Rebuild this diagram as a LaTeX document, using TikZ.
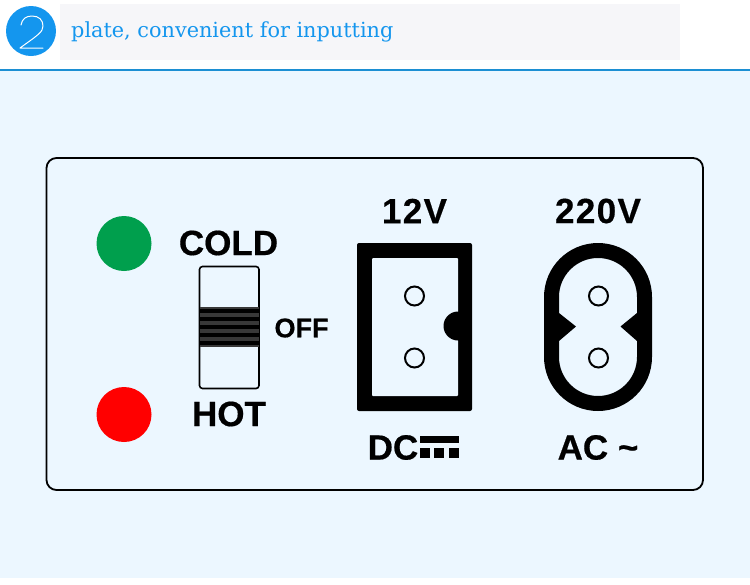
\documentclass[tikz,border=0pt]{standalone}
\usepackage{fontspec}
\setmainfont{Liberation Sans}[BoldFeatures={FakeBold=0.5}]
\definecolor{bgblue}{HTML}{ECF7FF}
\definecolor{headblue}{HTML}{1496EE}
\definecolor{linecol}{HTML}{1C8FD3}
\definecolor{band}{HTML}{F6F6F9}
\definecolor{ledg}{HTML}{009F4D}
\tikzset{
  lbl/.style={font=\fontsize{#1}{#1}\selectfont\bfseries,text=black,inner sep=0pt},
  pin/.style={circle,draw=black,line width=2pt,fill=none,minimum size=19pt,inner sep=0pt},
  led/.style={circle,minimum size=55pt,inner sep=0pt},
}
\begin{document}
\begin{tikzpicture}[x=1pt,y=-1pt]
\useasboundingbox (0,0) rectangle (750,584);
\fill[white] (0,0) rectangle (750,584);
\fill[bgblue] (0,70) rectangle (750,578);
\fill[linecol] (0,69) rectangle (750,71);
\fill[band] (60,4) rectangle (680,60);
\node[circle,fill=headblue,minimum size=50pt,inner sep=0pt] (badge) at (31,31) {};
\draw[white,line width=1pt,line cap=round,line join=round] (21,25) .. controls (22,19) and (26,16) .. (32,16) .. controls (39,16) and (43,20) .. (43,26) .. controls (43,32) and (38,35) .. (20,48) -- (43,48);
\node[anchor=base west,inner sep=0pt,text=headblue,font=\fontsize{20.8}{20.8}\selectfont\fontspec{DejaVu Serif}] (title) at (71,37) {plate, convenient for inputting};
\draw[black,line width=1.8pt,rounded corners=10pt] (46.5,158) rectangle (703,490);
\node[led,fill=ledg] (green) at (124,243.5) {};
\node[led,fill=red] (redled) at (124,414.5) {};
\node[lbl=35] (cold) at (228.5,243) {COLD};
\node[lbl=35] (hot) at (229,414) {HOT};
\node[lbl=27] (off) at (301.5,328) {OFF};
\draw[black,line width=1.6pt,rounded corners=3pt] (199.5,266.5) rectangle (259,388.5);
\fill[black!78] (200,307) rectangle (258.5,347);
\foreach \yy in {311,319,327,335,343}{\fill[black] (200,\yy-1.7) rectangle (258.5,\yy+1.7);}
\node[lbl=35] (v12) at (414.5,211) {\addfontfeature{LetterSpace=4}12V};
\fill[black,rounded corners=2pt] (357,243) rectangle (472,411);
\fill[bgblue,rounded corners=1pt] (372,258) rectangle (458,396);
\fill[black] (458,311.5) arc[start angle=-90,end angle=-270,radius=14.5] -- (460,340.5) -- (460,311.5) -- cycle;
\node[pin] (p1) at (414.5,296) {};
\node[pin] (p2) at (414.5,358) {};
\node[lbl=35] (dc) at (393,447.5) {DC};
\fill[black] (420,436) rectangle (459,443);
\foreach \xx in {420,434,449}{\fill[black] (\xx,448) rectangle (\xx+10,458);}
\node[lbl=35] (v220) at (598,211) {\addfontfeature{LetterSpace=4}220V};
\fill[black,even odd rule]
  (544,297) arc[start angle=180,end angle=360,radius=54] -- (652,357) arc[start angle=0,end angle=180,radius=54] -- cycle
  (559,313) -- (559,297) arc[start angle=180,end angle=360,radius=39] -- (637,313) -- (620.5,326.5) -- (637,341) -- (637,357) arc[start angle=0,end angle=180,radius=39] -- (559,341) -- (576,326.5) -- cycle;
\node[pin] (p3) at (598.5,296) {};
\node[pin] (p4) at (598.5,358) {};
\node[lbl=35] (ac) at (598,447.5) {AC \char`~};
\end{tikzpicture}
\end{document}
